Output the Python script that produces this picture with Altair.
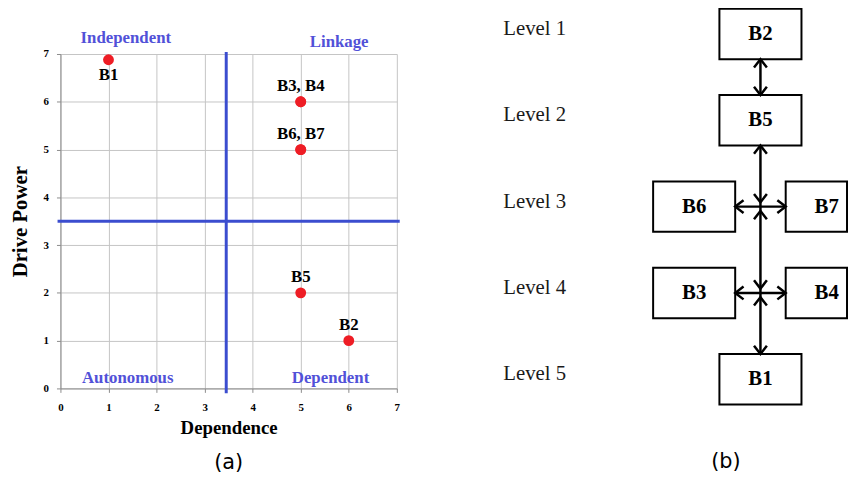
import altair as alt
import pandas as pd

# ---------------- (a) MICMAC analysis data ----------------
variables = ["B1", "B2", "B3", "B4", "B5", "B6", "B7"]
dependence = [1, 6, 5, 5, 5, 5, 5]
driving_power = [6.88, 1, 6, 6, 2, 5, 5]

axis_values = [0, 1, 2, 3, 4, 5, 6, 7]
dependence_cut = 3.45
drive_cut = 3.5

quadrant_names = ["Independent", "Linkage", "Autonomous", "Dependent"]
quadrant_dep = [1.36, 5.8, 1.4, 5.62]
quadrant_drv = [7.33, 7.24, 0.21, 0.21]

# ---------------- (b) ISM hierarchy data ----------------
nodes = ["B2", "B5", "B6", "B7", "B3", "B4", "B1"]
node_level = [1, 2, 3, 3, 4, 4, 5]
node_slot = [0, 0, -1, 1, -1, 1, 0]
level_numbers = [1, 2, 3, 4, 5]
junction_names = ["J3", "J4"]
junction_level = [3, 4]
edges = [("B2", "B5"), ("B5", "J3"), ("B6", "B7"), ("J3", "J4"), ("B3", "B4"), ("J4", "B1")]

# ---------------- styling ----------------
SERIF = "Liberation Serif"
LINE_BLUE = "#3b4dcf"
LABEL_BLUE = "#5151d8"
RED = "#ee1d25"

# ---------------- panel (a) ----------------
pts = pd.DataFrame({"var": variables, "dep": dependence, "drv": driving_power})
labels = pts.groupby(["dep", "drv"], sort=False)["var"].apply(", ".join).reset_index()
labels_below = labels[labels["drv"] >= 6.5]
labels_above = labels[labels["drv"] < 6.5]

xs = alt.Scale(domain=[0, 7], nice=False, zero=False)
ys = alt.Scale(domain=[0, 7], nice=False, zero=False)

axis_common = dict(
    values=axis_values, format="d", grid=True, gridColor="#c4c4c4", gridWidth=1,
    domainColor="#8c8c8c", tickColor="#8c8c8c", tickSize=4,
    labelFont=SERIF, labelFontWeight="bold", labelFontSize=11, labelColor="black",
    labelFlush=False, labelOverlap=False,
    titleFont=SERIF, titleFontWeight="bold", titleColor="black",
)


def X(field="dep"):
    return alt.X(f"{field}:Q", scale=xs,
                 axis=alt.Axis(title="Dependence", titleFontSize=19, labelPadding=9,
                               titlePadding=7, **axis_common))


def Y(field="drv"):
    return alt.Y(f"{field}:Q", scale=ys,
                 axis=alt.Axis(title="Drive Power", titleFontSize=21, labelPadding=8,
                               titlePadding=13, **axis_common))


points = alt.Chart(pts).mark_circle(size=120, color=RED, opacity=1).encode(x=X(), y=Y())

lab_above = alt.Chart(labels_above).mark_text(
    font=SERIF, fontWeight="bold", fontSize=17, color="black", baseline="alphabetic", dy=-11
).encode(x=X(), y=Y(), text="var:N")
lab_below = alt.Chart(labels_below).mark_text(
    font=SERIF, fontWeight="bold", fontSize=17, color="black", baseline="top", dy=7
).encode(x=X(), y=Y(), text="var:N")

vline = alt.Chart(pd.DataFrame({"dep": [dependence_cut], "drv": [-0.1], "drv2": [7.04]})).mark_rule(
    color=LINE_BLUE, strokeWidth=3
).encode(x=X(), y=Y(), y2="drv2:Q")
hline = alt.Chart(pd.DataFrame({"dep": [-0.06], "dep2": [7.06], "drv": [drive_cut]})).mark_rule(
    color=LINE_BLUE, strokeWidth=3
).encode(x=X(), x2="dep2:Q", y=Y())

quads = alt.Chart(pd.DataFrame({"name": quadrant_names, "dep": quadrant_dep, "drv": quadrant_drv})).mark_text(
    font=SERIF, fontWeight="bold", fontSize=17, color=LABEL_BLUE, baseline="middle"
).encode(x=X(), y=Y(), text="name:N")

cap_a = alt.Chart(pd.DataFrame({"dep": [3.5], "drv": [-1.57], "t": ["(a)"]})).mark_text(
    font="DejaVu Sans", fontSize=21, color="black", baseline="middle"
).encode(x=X(), y=Y(), text="t:N")

panel_a = alt.layer(vline, hline, points, lab_above, lab_below, quads, cap_a).properties(
    width=340, height=338
)

# ---------------- panel (b) ----------------
HW, HH = 0.619, 0.292   # half box size in slot / level units
GAP = 0.05              # arrow-tip gap at the junctions (level units)

pos = {n: (s, l) for n, s, l in zip(nodes, node_slot, node_level)}
for j, l in zip(junction_names, junction_level):
    pos[j] = (0, l)

boxes = pd.DataFrame({"node": nodes, "slot": node_slot, "level": node_level})
boxes["x"] = boxes["slot"] - HW
boxes["x2"] = boxes["slot"] + HW
boxes["y"] = boxes["level"] - HH
boxes["y2"] = boxes["level"] + HH

segs, heads = [], []
for a, b in edges:
    (sa, la), (sb, lb) = pos[a], pos[b]
    if sa == sb:  # vertical edge, a above b
        ya = la + HH if a in nodes else la
        yb = lb - HH if b in nodes else lb
        segs.append({"x": sa, "y": ya, "x2": sb, "y2": yb})
        heads.append({"x": sa, "y": ya if a in nodes else la + GAP, "angle": 0})
        heads.append({"x": sb, "y": yb if b in nodes else lb - GAP, "angle": 180})
    else:  # horizontal edge, a left of b
        xa, xb = sa + HW, sb - HW
        segs.append({"x": xa, "y": la, "x2": xb, "y2": lb})
        heads.append({"x": xa, "y": la, "angle": 270})
        heads.append({"x": xb, "y": lb, "angle": 90})
segs = pd.DataFrame(segs)
heads = pd.DataFrame(heads)

bx = alt.Scale(domain=[-3.993, 1.306], nice=False, zero=False, clamp=True)
by = alt.Scale(domain=[1.232, 5.106], nice=False, zero=False, reverse=True)


def BX(f="x"):
    return alt.X(f"{f}:Q", scale=bx, axis=None)


def BY(f="y"):
    return alt.Y(f"{f}:Q", scale=by, axis=None)


rects = alt.Chart(boxes).mark_rect(fill="white", stroke="black", strokeWidth=2).encode(
    x=BX(), x2="x2:Q", y=BY(), y2="y2:Q"
)
box_text = alt.Chart(boxes).mark_text(
    font=SERIF, fontWeight="bold", fontSize=21, color="black", baseline="middle"
).encode(x=BX("slot"), y=BY("level"), text="node:N")

lines = alt.Chart(segs).mark_rule(color="black", strokeWidth=2.5).encode(
    x=BX(), x2="x2:Q", y=BY(), y2="y2:Q"
)
CHEVRON = "M-1,1.3L0,0L1,1.3"
arrowheads = alt.Chart(heads).mark_point(
    shape=CHEVRON, size=169, filled=False, stroke="black", strokeWidth=2.5, opacity=1
).encode(x=BX(), y=BY(), angle=alt.Angle("angle:Q", scale=None))

level_df = pd.DataFrame({"level": level_numbers, "slot": -3.88})
level_df["label"] = ["Level " + str(v) for v in level_numbers]
level_text = alt.Chart(level_df).mark_text(
    font=SERIF, fontSize=21, color="#1a1a1a", align="left", baseline="middle", dy=-5
).encode(x=BX("slot"), y=BY("level"), text="label:N")

cap_b = alt.Chart(pd.DataFrame({"x": [-0.522], "y": [5.96], "t": ["(b)"]})).mark_text(
    font="DejaVu Sans", fontSize=21, color="black", baseline="middle"
).encode(x=BX(), y=BY(), text="t:N")

panel_b = alt.layer(rects, lines, arrowheads, box_text, level_text, cap_b).properties(
    width=355, height=338
)

chart = alt.hconcat(panel_a, panel_b, spacing=100, bounds="flush").properties(
    padding={"left": 1, "top": -3, "right": 0, "bottom": -3}
).configure_view(stroke=None)

chart.save("out.html", embed_options={"renderer": "svg", "actions": False})
